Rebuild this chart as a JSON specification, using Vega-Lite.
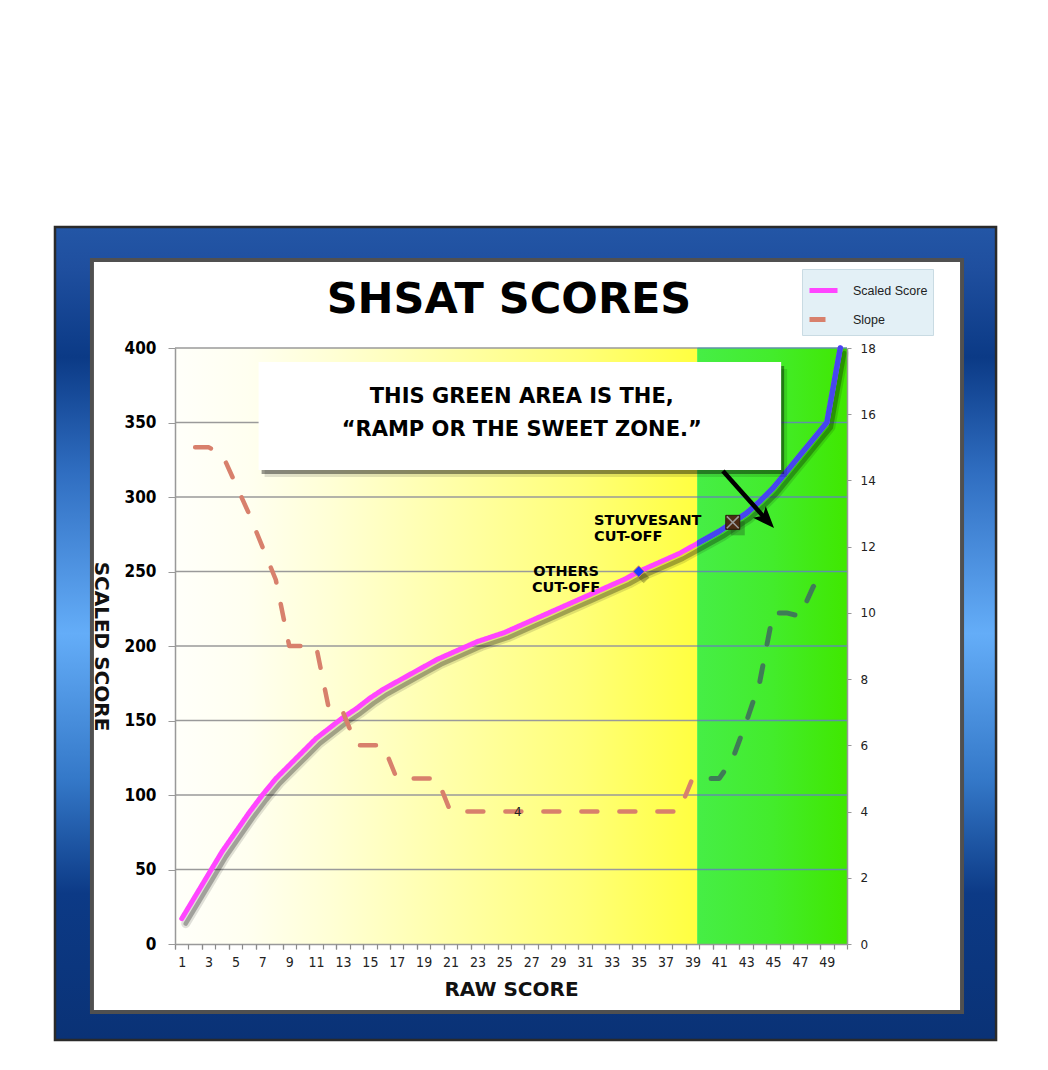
{
  "$schema": "https://vega.github.io/schema/vega-lite/v6.json",
  "width": 672,
  "height": 596,
  "autosize": {"type": "none"},
  "padding": {"left": 175, "top": 348, "right": 201, "bottom": 126},
  "background": "white",
  "config": {
    "view": {"stroke": null},
    "font": "DejaVu Sans",
    "axis": {"grid": false, "zindex": 1},
    "legend": {
      "orient": "none", "legendX": 627, "legendY": -79,
      "symbolType": "stroke", "symbolSize": 784, "symbolStrokeWidth": 5,
      "labelFont": "Liberation Sans", "labelFontSize": 12.5, "labelColor": "#222",
      "labelOffset": 13, "fillColor": "#e3f0f6", "strokeColor": "#c9dbe3",
      "padding": 5, "rowPadding": 2
    }
  },
  "datasets": {
    "shsat": [
      {"raw":1,"value":17,"series":"Scaled Score"},{"raw":2,"value":32,"series":"Scaled Score"},{"raw":3,"value":47,"series":"Scaled Score"},{"raw":4,"value":62,"series":"Scaled Score"},{"raw":5,"value":75,"series":"Scaled Score"},
      {"raw":6,"value":88,"series":"Scaled Score"},{"raw":7,"value":100,"series":"Scaled Score"},{"raw":8,"value":111,"series":"Scaled Score"},{"raw":9,"value":120,"series":"Scaled Score"},{"raw":10,"value":129,"series":"Scaled Score"},
      {"raw":11,"value":138,"series":"Scaled Score"},{"raw":12,"value":145,"series":"Scaled Score"},{"raw":13,"value":152,"series":"Scaled Score"},{"raw":14,"value":158,"series":"Scaled Score"},{"raw":15,"value":165,"series":"Scaled Score"},
      {"raw":16,"value":171,"series":"Scaled Score"},{"raw":17,"value":176,"series":"Scaled Score"},{"raw":18,"value":181,"series":"Scaled Score"},{"raw":19,"value":186,"series":"Scaled Score"},{"raw":20,"value":191,"series":"Scaled Score"},
      {"raw":21,"value":195,"series":"Scaled Score"},{"raw":22,"value":199,"series":"Scaled Score"},{"raw":23,"value":203,"series":"Scaled Score"},{"raw":24,"value":206,"series":"Scaled Score"},{"raw":25,"value":209,"series":"Scaled Score"},
      {"raw":26,"value":213,"series":"Scaled Score"},{"raw":27,"value":217,"series":"Scaled Score"},{"raw":28,"value":221,"series":"Scaled Score"},{"raw":29,"value":225,"series":"Scaled Score"},{"raw":30,"value":229,"series":"Scaled Score"},
      {"raw":31,"value":233,"series":"Scaled Score"},{"raw":32,"value":237,"series":"Scaled Score"},{"raw":33,"value":241,"series":"Scaled Score"},{"raw":34,"value":245,"series":"Scaled Score"},{"raw":35,"value":250,"series":"Scaled Score"},
      {"raw":36,"value":254,"series":"Scaled Score"},{"raw":37,"value":258,"series":"Scaled Score"},{"raw":38,"value":262,"series":"Scaled Score"},{"raw":39,"value":267,"series":"Scaled Score"},{"raw":40,"value":272,"series":"Scaled Score"},
      {"raw":41,"value":277,"series":"Scaled Score"},{"raw":42,"value":283,"series":"Scaled Score"},{"raw":43,"value":289,"series":"Scaled Score"},{"raw":44,"value":297,"series":"Scaled Score"},{"raw":45,"value":306,"series":"Scaled Score"},
      {"raw":46,"value":317,"series":"Scaled Score"},{"raw":47,"value":328,"series":"Scaled Score"},{"raw":48,"value":339,"series":"Scaled Score"},{"raw":49,"value":350,"series":"Scaled Score"},{"raw":50,"value":400,"series":"Scaled Score"},
      {"raw":2,"value":15,"series":"Slope"},{"raw":3,"value":15,"series":"Slope"},{"raw":4,"value":14.8,"series":"Slope"},{"raw":5,"value":13.9,"series":"Slope"},{"raw":6,"value":13,"series":"Slope"},
      {"raw":7,"value":12,"series":"Slope"},{"raw":8,"value":11,"series":"Slope"},{"raw":9,"value":9,"series":"Slope"},{"raw":10,"value":9,"series":"Slope"},{"raw":11,"value":9,"series":"Slope"},
      {"raw":12,"value":7,"series":"Slope"},{"raw":13,"value":7,"series":"Slope"},{"raw":14,"value":6,"series":"Slope"},{"raw":15,"value":6,"series":"Slope"},{"raw":16,"value":6,"series":"Slope"},
      {"raw":17,"value":5,"series":"Slope"},{"raw":18,"value":5,"series":"Slope"},{"raw":19,"value":5,"series":"Slope"},{"raw":20,"value":5,"series":"Slope"},{"raw":21,"value":4,"series":"Slope"},
      {"raw":22,"value":4,"series":"Slope"},{"raw":23,"value":4,"series":"Slope"},{"raw":24,"value":4,"series":"Slope"},{"raw":25,"value":4,"series":"Slope"},{"raw":26,"value":4,"series":"Slope"},
      {"raw":27,"value":4,"series":"Slope"},{"raw":28,"value":4,"series":"Slope"},{"raw":29,"value":4,"series":"Slope"},{"raw":30,"value":4,"series":"Slope"},{"raw":31,"value":4,"series":"Slope"},
      {"raw":32,"value":4,"series":"Slope"},{"raw":33,"value":4,"series":"Slope"},{"raw":34,"value":4,"series":"Slope"},{"raw":35,"value":4,"series":"Slope"},{"raw":36,"value":4,"series":"Slope"},
      {"raw":37,"value":4,"series":"Slope"},{"raw":38,"value":4,"series":"Slope"},{"raw":39,"value":5,"series":"Slope"},{"raw":40,"value":5,"series":"Slope"},{"raw":41,"value":5,"series":"Slope"},
      {"raw":42,"value":5.6,"series":"Slope"},{"raw":43,"value":6.7,"series":"Slope"},{"raw":44,"value":7.9,"series":"Slope"},{"raw":45,"value":10,"series":"Slope"},{"raw":46,"value":10,"series":"Slope"},
      {"raw":47,"value":9.9,"series":"Slope"},{"raw":48,"value":10.8,"series":"Slope"},{"raw":49,"value":11,"series":"Slope"}
    ]
  },
  "data": {"name": "shsat"},
  "resolve": {"scale": {"y": "independent"}, "axis": {"x": "independent"}},
  "layer": [
    {
      "layer": [
        {
          "data": {"values": [{}]},
          "mark": {"type": "rect", "stroke": "#2a2a2a", "strokeWidth": 2.5,
            "fill": {"gradient": "linear", "x1": 0, "y1": 0, "x2": 0, "y2": 1, "stops": [
              {"offset": 0, "color": "#2356a6"}, {"offset": 0.05, "color": "#1f4f9f"},
              {"offset": 0.16, "color": "#0b3a86"}, {"offset": 0.3, "color": "#2f6dc0"},
              {"offset": 0.5, "color": "#64adf8"}, {"offset": 0.68, "color": "#3478c8"},
              {"offset": 0.82, "color": "#0c3a86"}, {"offset": 1, "color": "#0a3276"}]}},
          "encoding": {
            "x": {"datum": -8.43, "type": "quantitative", "scale": {"domain": [0.5, 50.5]}},
            "x2": {"datum": 61.59},
            "y": {"datum": 481.2, "type": "quantitative", "scale": {"domain": [0, 400]}},
            "y2": {"datum": -64.4}
          }
        },
        {
          "data": {"values": [{}]},
          "mark": {"type": "rect", "fill": "#ffffff", "stroke": "#505050", "strokeWidth": 4},
          "encoding": {
            "x": {"datum": -5.68, "type": "quantitative", "scale": {"domain": [0.5, 50.5]}},
            "x2": {"datum": 59.06},
            "y": {"datum": 459.1, "type": "quantitative", "scale": {"domain": [0, 400]}},
            "y2": {"datum": -45.6}
          }
        },
        {
          "data": {"values": [{}]},
          "mark": {"type": "rect",
            "fill": {"gradient": "linear", "x1": 0, "y1": 0, "x2": 1, "y2": 0, "stops": [
              {"offset": 0, "color": "#fffffa"}, {"offset": 0.14, "color": "#fffff0"},
              {"offset": 0.3, "color": "#ffffd5"}, {"offset": 0.53, "color": "#ffffa8"},
              {"offset": 0.78, "color": "#ffff78"}, {"offset": 1, "color": "#ffff40"}]}},
          "encoding": {
            "x": {"datum": 0.5, "type": "quantitative", "scale": {"domain": [0.5, 50.5]}},
            "x2": {"datum": 39.35},
            "y": {"datum": 0, "type": "quantitative", "scale": {"domain": [0, 400]}},
            "y2": {"datum": 400}
          }
        },
        {
          "data": {"values": [{}]},
          "mark": {"type": "rect",
            "fill": {"gradient": "linear", "x1": 0, "y1": 0, "x2": 1, "y2": 0, "stops": [
              {"offset": 0, "color": "#46ee46"}, {"offset": 0.5, "color": "#43ec2c"},
              {"offset": 1, "color": "#40e800"}]}},
          "encoding": {
            "x": {"datum": 39.35, "type": "quantitative", "scale": {"domain": [0.5, 50.5]}},
            "x2": {"datum": 50.5},
            "y": {"datum": 0, "type": "quantitative", "scale": {"domain": [0, 400]}},
            "y2": {"datum": 400}
          }
        },
        {
          "data": {"values": [{"v": 50}, {"v": 100}, {"v": 150}, {"v": 200}, {"v": 250}, {"v": 300}, {"v": 350}, {"v": 400}]},
          "mark": {"type": "rule", "color": "#9a9a9a", "strokeWidth": 1.5},
          "encoding": {
            "x": {"datum": 0.5, "type": "quantitative", "scale": {"domain": [0.5, 50.5]}},
            "x2": {"datum": 39.35},
            "y": {"field": "v", "type": "quantitative", "scale": {"domain": [0, 400]}}
          }
        },
        {
          "data": {"values": [{"v": 50}, {"v": 100}, {"v": 150}, {"v": 200}, {"v": 250}, {"v": 300}, {"v": 350}, {"v": 400}]},
          "mark": {"type": "rule", "color": "#5f92a6", "strokeWidth": 1.5},
          "encoding": {
            "x": {"datum": 39.35, "type": "quantitative", "scale": {"domain": [0.5, 50.5]}},
            "x2": {"datum": 50.5},
            "y": {"field": "v", "type": "quantitative", "scale": {"domain": [0, 400]}}
          }
        },
        {
          "transform": [{"filter": "datum.series == 'Scaled Score'"}],
          "mark": {"type": "line", "stroke": "#000000", "strokeOpacity": 0.12, "strokeWidth": 9, "strokeCap": "round", "strokeJoin": "round", "xOffset": 4, "yOffset": 5},
          "encoding": {
            "x": {"field": "raw", "type": "quantitative", "scale": {"domain": [0.5, 50.5]}},
            "y": {"field": "value", "type": "quantitative", "scale": {"domain": [0, 400]}}
          }
        },
        {
          "transform": [{"filter": "datum.series == 'Scaled Score'"}],
          "mark": {"type": "line", "stroke": "#000000", "strokeOpacity": 0.28, "strokeWidth": 4.5, "strokeCap": "round", "strokeJoin": "round", "xOffset": 4, "yOffset": 5},
          "encoding": {
            "x": {"field": "raw", "type": "quantitative", "scale": {"domain": [0.5, 50.5]}},
            "y": {"field": "value", "type": "quantitative", "scale": {"domain": [0, 400]}}
          }
        },
        {
          "transform": [{"filter": "datum.series == 'Scaled Score'"}],
          "mark": {"type": "line", "strokeWidth": 5, "strokeCap": "round", "strokeJoin": "round"},
          "encoding": {
            "x": {"field": "raw", "type": "quantitative", "scale": {"domain": [0.5, 50.5]},
              "axis": {
                "orient": "bottom",
                "values": [0.5,2.5,4.5,6.5,8.5,10.5,12.5,14.5,16.5,18.5,20.5,22.5,24.5,26.5,28.5,30.5,32.5,34.5,36.5,38.5,40.5,42.5,44.5,46.5,48.5],
                "tickCount": 200,
                "labelExpr": "format(datum.value + 0.5, 'd')",
                "labelOffset": 6.72, "labelOverlap": false, "labelFlush": false, "labelBound": false,
                "labelFont": "Liberation Sans Narrow, DejaVu Sans Condensed", "labelFontSize": 14, "labelColor": "#222", "labelPadding": 6,
                "ticks": true, "tickSize": 5, "tickColor": "#8a8a8a", "tickWidth": 1.2,
                "domainColor": "#999999", "domainWidth": 1.5, "grid": false, "zindex": 1,
                "title": "RAW SCORE", "titleFont": "DejaVu Sans", "titleFontSize": 20, "titleFontWeight": "bold", "titleColor": "#111111", "titlePadding": 10
              }},
            "y": {"field": "value", "type": "quantitative", "scale": {"domain": [0, 400]},
              "axis": {
                "orient": "left", "values": [0, 50, 100, 150, 200, 250, 300, 350, 400],
                "title": "SCALED SCORE", "titleAngle": 90, "titleBaseline": "top", "titleFont": "DejaVu Sans", "titleFontSize": 20, "titleFontWeight": "bold", "titleColor": "#111111", "titlePadding": 14,
                "labelFont": "DejaVu Sans Condensed, DejaVu Sans", "labelFontSize": 17, "labelFontWeight": "bold", "labelColor": "#000000", "labelPadding": 12,
                "tickSize": 7, "tickColor": "#999999", "domainColor": "#999999", "domainWidth": 1.5, "grid": false, "zindex": 1
              }},
            "color": {"field": "series", "type": "nominal",
              "scale": {"domain": ["Scaled Score", "Slope"], "range": ["#ff45ff", "#d8806c"]},
              "legend": {"title": null}},
            "strokeDash": {"field": "series", "type": "nominal",
              "scale": {"domain": ["Scaled Score", "Slope"], "range": [[1, 0], [16, 22]]},
              "legend": {"title": null}}
          }
        },
        {
          "transform": [{"filter": "datum.series == 'Scaled Score'"}],
          "mark": {"type": "line", "strokeWidth": 5.5, "strokeCap": "round", "strokeJoin": "round",
            "stroke": {"gradient": "linear", "x1": 0, "y1": 0, "x2": 1, "y2": 0, "stops": [
              {"offset": 0, "color": "rgba(70,70,240,0)"}, {"offset": 0.7824, "color": "rgba(70,70,240,0)"},
              {"offset": 0.7824, "color": "#4646f0"}, {"offset": 1, "color": "#4646f0"}]}},
          "encoding": {
            "x": {"field": "raw", "type": "quantitative", "scale": {"domain": [0.5, 50.5]}},
            "y": {"field": "value", "type": "quantitative", "scale": {"domain": [0, 400]}}
          }
        },
        {
          "data": {"values": [{}]},
          "mark": {"type": "rect", "fill": "#000000", "fillOpacity": 0.12, "xOffset": 6, "x2Offset": 6, "yOffset": 7, "y2Offset": 7},
          "encoding": {
            "x": {"datum": 6.72, "type": "quantitative", "scale": {"domain": [0.5, 50.5]}},
            "x2": {"datum": 45.6},
            "y": {"datum": 390.6, "type": "quantitative", "scale": {"domain": [0, 400]}},
            "y2": {"datum": 318.1}
          }
        },
        {
          "data": {"values": [{}]},
          "mark": {"type": "rect", "fill": "#000000", "fillOpacity": 0.4, "xOffset": 3, "x2Offset": 3, "yOffset": 4, "y2Offset": 4},
          "encoding": {
            "x": {"datum": 6.72, "type": "quantitative", "scale": {"domain": [0.5, 50.5]}},
            "x2": {"datum": 45.6},
            "y": {"datum": 390.6, "type": "quantitative", "scale": {"domain": [0, 400]}},
            "y2": {"datum": 318.1}
          }
        },
        {
          "data": {"values": [{}]},
          "mark": {"type": "rect", "fill": "#ffffff"},
          "encoding": {
            "x": {"datum": 6.72, "type": "quantitative", "scale": {"domain": [0.5, 50.5]}},
            "x2": {"datum": 45.6},
            "y": {"datum": 390.6, "type": "quantitative", "scale": {"domain": [0, 400]}},
            "y2": {"datum": 318.1}
          }
        },
        {
          "data": {"values": [{}]},
          "mark": {"type": "text", "text": ["THIS GREEN AREA IS THE,", "“RAMP OR THE SWEET ZONE.”"], "align": "center", "baseline": "middle", "lineHeight": 33, "font": "DejaVu Sans", "fontWeight": "bold", "fontSize": 21, "fill": "#000000"},
          "encoding": {
            "x": {"datum": 26.3, "type": "quantitative", "scale": {"domain": [0.5, 50.5]}},
            "y": {"datum": 367.4, "type": "quantitative", "scale": {"domain": [0, 400]}}
          }
        },
        {
          "transform": [{"filter": "datum.series == 'Scaled Score' && datum.raw == 35"}],
          "mark": {"type": "point", "shape": "diamond", "size": 130, "filled": true, "fill": "#000000", "fillOpacity": 0.25, "strokeWidth": 0, "xOffset": 5, "yOffset": 6},
          "encoding": {
            "x": {"field": "raw", "type": "quantitative", "scale": {"domain": [0.5, 50.5]}},
            "y": {"field": "value", "type": "quantitative", "scale": {"domain": [0, 400]}}
          }
        },
        {
          "transform": [{"filter": "datum.series == 'Scaled Score' && datum.raw == 35"}],
          "mark": {"type": "point", "shape": "diamond", "size": 130, "filled": true, "fill": "#1e3cff", "stroke": "#e8805a", "strokeWidth": 1, "opacity": 1},
          "encoding": {
            "x": {"field": "raw", "type": "quantitative", "scale": {"domain": [0.5, 50.5]}},
            "y": {"field": "value", "type": "quantitative", "scale": {"domain": [0, 400]}}
          }
        },
        {
          "transform": [{"filter": "datum.series == 'Scaled Score' && datum.raw == 42"}],
          "mark": {"type": "point", "shape": "square", "size": 196, "filled": true, "fill": "#1d4a1d", "fillOpacity": 0.35, "strokeWidth": 0, "xOffset": 5, "yOffset": 6},
          "encoding": {
            "x": {"field": "raw", "type": "quantitative", "scale": {"domain": [0.5, 50.5]}},
            "y": {"field": "value", "type": "quantitative", "scale": {"domain": [0, 400]}}
          }
        },
        {
          "transform": [{"filter": "datum.series == 'Scaled Score' && datum.raw == 42"}],
          "mark": {"type": "point", "shape": "square", "size": 196, "filled": true, "fill": "#4b2b14", "stroke": "#2b1b0b", "strokeWidth": 1, "opacity": 1},
          "encoding": {
            "x": {"field": "raw", "type": "quantitative", "scale": {"domain": [0.5, 50.5]}},
            "y": {"field": "value", "type": "quantitative", "scale": {"domain": [0, 400]}}
          }
        },
        {
          "transform": [{"filter": "datum.series == 'Scaled Score' && datum.raw == 42"}],
          "mark": {"type": "point", "shape": "M-0.85,-0.85L0.85,0.85M-0.85,0.85L0.85,-0.85", "size": 196, "filled": false, "stroke": "#9a9a9a", "strokeWidth": 1.5, "opacity": 1},
          "encoding": {
            "x": {"field": "raw", "type": "quantitative", "scale": {"domain": [0.5, 50.5]}},
            "y": {"field": "value", "type": "quantitative", "scale": {"domain": [0, 400]}}
          }
        },
        {
          "data": {"values": [{}]},
          "mark": {"type": "text", "text": ["OTHERS", "CUT-OFF"], "align": "center", "baseline": "middle", "lineHeight": 16.5, "font": "DejaVu Sans", "fontWeight": "bold", "fontSize": 14.5, "fill": "#000000"},
          "encoding": {
            "x": {"datum": 29.6, "type": "quantitative", "scale": {"domain": [0.5, 50.5]}},
            "y": {"datum": 249.9, "type": "quantitative", "scale": {"domain": [0, 400]}}
          }
        },
        {
          "data": {"values": [{}]},
          "mark": {"type": "text", "text": ["STUYVESANT", "CUT-OFF"], "align": "left", "baseline": "middle", "lineHeight": 16.5, "font": "DejaVu Sans", "fontWeight": "bold", "fontSize": 14.5, "fill": "#000000"},
          "encoding": {
            "x": {"datum": 31.68, "type": "quantitative", "scale": {"domain": [0.5, 50.5]}},
            "y": {"datum": 284.0, "type": "quantitative", "scale": {"domain": [0, 400]}}
          }
        },
        {
          "data": {"values": [{}]},
          "mark": {"type": "rule", "color": "#000000", "strokeWidth": 4.5},
          "encoding": {
            "x": {"datum": 41.27, "type": "quantitative", "scale": {"domain": [0.5, 50.5]}},
            "x2": {"datum": 44.5},
            "y": {"datum": 317.4, "type": "quantitative", "scale": {"domain": [0, 400]}},
            "y2": {"datum": 284.8}
          }
        },
        {
          "data": {"values": [{}]},
          "mark": {"type": "point", "shape": "M0,-1L0.75,0.9L0,0.45L-0.75,0.9Z", "size": 520, "angle": 137.6, "filled": true, "fill": "#000000", "strokeWidth": 0, "opacity": 1},
          "encoding": {
            "x": {"datum": 44.5, "type": "quantitative", "scale": {"domain": [0.5, 50.5]}},
            "y": {"datum": 284.8, "type": "quantitative", "scale": {"domain": [0, 400]}}
          }
        },
        {
          "data": {"values": [{}]},
          "mark": {"type": "text", "text": "SHSAT SCORES", "align": "center", "baseline": "middle", "font": "DejaVu Sans", "fontWeight": "bold", "fontSize": 43, "fill": "#000000"},
          "encoding": {
            "x": {"datum": 25.35, "type": "quantitative", "scale": {"domain": [0.5, 50.5]}},
            "y": {"datum": 432.2, "type": "quantitative", "scale": {"domain": [0, 400]}}
          }
        }
      ]
    },
    {
      "layer": [
        {
          "transform": [{"filter": "datum.series == 'Slope'"}],
          "mark": {"type": "line", "strokeWidth": 4.5, "strokeCap": "round", "strokeJoin": "round"},
          "encoding": {
            "x": {"field": "raw", "type": "quantitative", "scale": {"domain": [0.5, 50.5]},
              "axis": {
                "orient": "bottom",
                "values": [0.5,1.5,2.5,3.5,4.5,5.5,6.5,7.5,8.5,9.5,10.5,11.5,12.5,13.5,14.5,15.5,16.5,17.5,18.5,19.5,20.5,21.5,22.5,23.5,24.5,25.5,26.5,27.5,28.5,29.5,30.5,31.5,32.5,33.5,34.5,35.5,36.5,37.5,38.5,39.5,40.5,41.5,42.5,43.5,44.5,45.5,46.5,47.5,48.5,49.5,50.5],
                "tickCount": 200,
                "labels": false, "domain": false, "title": null,
                "ticks": true, "tickSize": 5, "tickColor": "#8a8a8a", "tickWidth": 1.2, "grid": false, "zindex": 1
              }},
            "y": {"field": "value", "type": "quantitative", "scale": {"domain": [0, 18]},
              "axis": {
                "orient": "right", "values": [0, 2, 4, 6, 8, 10, 12, 14, 16, 18], "format": "d", "title": null,
                "labelFont": "DejaVu Sans", "labelFontSize": 12, "labelColor": "#222222", "labelPadding": 9,
                "tickSize": 4, "tickColor": "#999999", "domainColor": "#999999", "domainWidth": 1.5, "grid": false, "zindex": 1
              }},
            "color": {"field": "series", "type": "nominal",
              "scale": {"domain": ["Scaled Score", "Slope"], "range": ["#ff45ff", "#d8806c"]},
              "legend": {"title": null}},
            "strokeDash": {"field": "series", "type": "nominal",
              "scale": {"domain": ["Scaled Score", "Slope"], "range": [[1, 0], [16, 22]]},
              "legend": {"title": null}}
          }
        },
        {
          "transform": [{"filter": "datum.series == 'Slope'"}],
          "mark": {"type": "line", "strokeWidth": 5, "strokeCap": "round", "strokeJoin": "round", "strokeDash": [16, 22],
            "stroke": {"gradient": "linear", "x1": 0, "y1": 0, "x2": 1, "y2": 0, "stops": [
              {"offset": 0, "color": "rgba(61,125,86,0)"}, {"offset": 0.7945, "color": "rgba(61,125,86,0)"},
              {"offset": 0.7945, "color": "#3d7d56"}, {"offset": 1, "color": "#3d7d56"}]}},
          "encoding": {
            "x": {"field": "raw", "type": "quantitative", "scale": {"domain": [0.5, 50.5]}},
            "y": {"field": "value", "type": "quantitative", "scale": {"domain": [0, 18]}}
          }
        },
        {
          "transform": [{"filter": "datum.series == 'Slope' && datum.raw == 26"}],
          "mark": {"type": "text", "align": "center", "baseline": "middle", "font": "DejaVu Sans", "fontSize": 12, "fill": "#222222"},
          "encoding": {
            "x": {"field": "raw", "type": "quantitative", "scale": {"domain": [0.5, 50.5]}},
            "y": {"field": "value", "type": "quantitative", "scale": {"domain": [0, 18]}},
            "text": {"field": "value", "type": "quantitative"}
          }
        }
      ]
    }
  ]
}
